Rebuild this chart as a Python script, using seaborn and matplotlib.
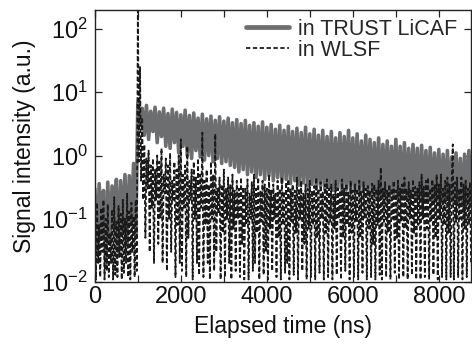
import numpy as np
import pandas as pd
import matplotlib
matplotlib.use("Agg")
from matplotlib import pyplot as plt
from matplotlib.ticker import MultipleLocator, LogLocator, NullLocator
import seaborn as sns

# sygnal w TRUST LiCAF, probki co 50 ns od 0 ns
licaf = [0.30, 0.03, 0.36, 0.05, 0.28, 0.02, 0.38, 0.04, 0.33, 0.07,
         0.42, 0.03, 0.40, 0.06, 0.50, 0.04, 0.48, 0.08, 0.75, 0.05,
         7.0, 3.0, 5.6, 2.1, 6.2, 1.8, 5.0, 2.4, 5.8, 1.6,
         4.9, 2.0, 5.6, 1.4, 4.6, 1.3, 5.4, 1.6, 4.8, 1.1,
         4.4, 1.4, 5.2, 1.0, 4.3, 0.9, 4.7, 1.2, 3.9, 0.95,
         4.5, 0.85, 3.8, 1.0, 4.2, 0.8, 3.6, 0.9, 4.1, 0.75,
         3.5, 0.8, 3.9, 0.7, 3.3, 0.65, 3.7, 0.55, 3.2, 0.6,
         3.6, 0.5, 3.0, 0.55, 3.3, 0.45, 2.9, 0.5, 3.4, 0.42,
         2.8, 0.48, 3.1, 0.4, 2.6, 0.45, 3.0, 0.38, 2.5, 0.42,
         2.9, 0.36, 2.4, 0.4, 2.7, 0.34, 2.3, 0.37, 2.8, 0.33,
         2.2, 0.35, 2.6, 0.3, 2.1, 0.33, 2.5, 0.29, 2.0, 0.32,
         2.4, 0.28, 1.9, 0.3, 2.3, 0.27, 2.0, 0.29, 2.5, 0.26,
         1.9, 0.28, 2.2, 0.25, 1.7, 0.27, 2.1, 0.24, 1.8, 0.26,
         1.6, 0.24, 1.9, 0.23, 1.5, 0.25, 1.7, 0.22, 1.4, 0.24,
         1.8, 0.22, 1.4, 0.23, 1.6, 0.21, 1.3, 0.22, 1.5, 0.2,
         1.3, 0.21, 1.45, 0.19, 1.2, 0.2, 1.35, 0.19, 1.1, 0.2,
         1.25, 0.18, 1.05, 0.19, 1.2, 0.17, 0.95, 0.18, 1.1, 0.17,
         0.9, 0.16, 1.05, 0.17, 1.2, 0.16]

# sygnal w WLSF, probki co 25 ns od 0 ns
wlsf = [0.12, 0.011, 0.18, 0.02, 0.08, 0.012, 0.15, 0.03, 0.2, 0.011,
        0.1, 0.015, 0.17, 0.012, 0.06, 0.02, 0.14, 0.011, 0.22, 0.013,
        0.09, 0.012, 0.16, 0.025, 0.12, 0.011, 0.2, 0.014, 0.1, 0.02,
        0.25, 0.012, 0.13, 0.011, 0.18, 0.03, 0.11, 0.012, 0.2, 0.015,
        250, 0.8, 25, 0.4, 4.0, 0.2, 1.5, 0.05, 0.9, 0.3,
        1.2, 0.03, 0.7, 0.15, 0.9, 0.02, 0.6, 0.2, 1.0, 0.04,
        0.8, 0.1, 1.3, 0.02, 0.5, 0.25, 0.9, 0.015, 0.7, 0.1,
        1.1, 0.03, 0.4, 0.2, 0.8, 0.012, 0.6, 0.08, 1.0, 0.02,
        1.8, 0.015, 0.5, 0.15, 0.7, 0.012, 1.4, 0.05, 0.4, 0.2,
        0.6, 0.011, 0.8, 0.1, 0.45, 0.02, 0.9, 0.013, 0.5, 0.15,
        2.3, 0.012, 0.4, 0.08, 0.6, 0.02, 0.35, 0.011, 0.8, 0.1,
        0.5, 0.015, 2.2, 0.03, 0.3, 0.12, 0.45, 0.011, 0.35, 0.06,
        0.6, 0.012, 0.3, 0.1, 0.45, 0.02, 0.35, 0.011, 0.5, 0.07,
        0.28, 0.015, 0.4, 0.1, 0.3, 0.012, 0.45, 0.04, 0.32, 0.011,
        0.3, 0.08, 0.42, 0.011, 0.25, 0.1, 0.38, 0.015, 0.5, 0.02,
        0.3, 0.06, 0.45, 0.011, 0.28, 0.09, 0.4, 0.013, 0.35, 0.03,
        0.3, 0.011, 0.5, 0.07, 0.28, 0.015, 0.35, 0.1, 0.25, 0.012,
        0.4, 0.05, 0.3, 0.011, 0.45, 0.08, 0.27, 0.014, 0.38, 0.02,
        0.42, 0.011, 0.3, 0.09, 0.35, 0.013, 0.28, 0.06, 0.45, 0.011,
        0.3, 0.1, 0.4, 0.015, 0.25, 0.04, 0.35, 0.011, 0.3, 0.07,
        0.4, 0.012, 0.28, 0.08, 0.33, 0.011, 0.45, 0.05, 0.3, 0.014,
        0.38, 0.1, 0.27, 0.011, 0.35, 0.06, 0.42, 0.012, 0.3, 0.09,
        0.35, 0.011, 0.25, 0.07, 0.4, 0.013, 0.3, 0.1, 0.28, 0.011,
        0.42, 0.05, 0.3, 0.015, 0.36, 0.08, 0.26, 0.011, 0.4, 0.06,
        0.28, 0.012, 0.35, 0.09, 0.3, 0.011, 0.4, 0.05, 0.27, 0.014,
        0.38, 0.1, 0.3, 0.011, 0.33, 0.07, 0.28, 0.012, 0.36, 0.04,
        0.35, 0.011, 0.3, 0.08, 0.4, 0.013, 0.65, 0.011, 0.3, 0.09,
        0.38, 0.012, 0.28, 0.06, 0.35, 0.011, 0.3, 0.1, 0.4, 0.014,
        0.28, 0.05, 0.4, 0.011, 0.3, 0.09, 0.35, 0.012, 0.45, 0.07,
        0.3, 0.011, 0.38, 0.1, 0.28, 0.013, 0.42, 0.06, 0.32, 0.011,
        0.3, 0.08, 0.38, 0.011, 0.5, 0.1, 0.32, 0.012, 0.4, 0.07,
        0.45, 0.011, 0.3, 0.09, 0.42, 0.013, 0.35, 0.05, 0.5, 0.011,
        0.35, 0.1, 0.5, 0.012, 0.3, 0.08, 0.4, 0.011, 0.45, 0.06,
        0.35, 0.012, 0.4, 1.5, 0.011, 0.38, 0.09, 0.45, 0.012, 0.3,
        0.1, 0.45, 0.011, 0.35, 0.07, 0.4, 0.012, 0.3, 0.08, 0.38,
        0.02]

df_licaf = pd.DataFrame({"t": 50 * np.arange(len(licaf)), "s": licaf})
df_wlsf = pd.DataFrame({"t": 25 * np.arange(len(wlsf)), "s": wlsf})

sns.set_theme(style="ticks")
plt.rcParams["font.family"] = ["Liberation Sans", "DejaVu Sans"]

fig = plt.figure(figsize=(4.72, 3.44), dpi=100)
ax = fig.add_axes([0.201, 0.180, 0.797, 0.791])

sns.lineplot(data=df_licaf, x="t", y="s", ax=ax, color="#6d6e70", lw=2.6,
             label="in TRUST LiCAF")
sns.lineplot(data=df_wlsf, x="t", y="s", ax=ax, color="#1a1a1a", lw=1.3,
             linestyle=(0, (2.4, 1.4)), label="in WLSF")

ax.set_yscale("log")
ax.set_xlim(0, 8750)
ax.set_ylim(0.01, 200)
ax.xaxis.set_major_locator(MultipleLocator(2000))
ax.xaxis.set_minor_locator(MultipleLocator(1000))
ax.yaxis.set_major_locator(LogLocator(base=10, numticks=10))
ax.yaxis.set_minor_locator(NullLocator())
ax.tick_params(which="both", direction="in", top=True, right=True,
               length=5, width=0.9, color="#222222", labelsize=17,
               labelcolor="#111111", pad=5)
ax.tick_params(axis="x", pad=3)
for sp in ax.spines.values():
    sp.set_linewidth(1.0)
    sp.set_color("#222222")

ax.set_xlabel("Elapsed time (ns)", fontsize=16.5, color="#111111", labelpad=5)
ax.set_ylabel("Signal intensity (a.u.)", fontsize=16.5, color="#111111", labelpad=4)

leg = ax.legend(loc="upper right", bbox_to_anchor=(0.985, 1.0), frameon=False,
                fontsize=15.5, handlelength=2.0, handletextpad=0.4,
                labelspacing=0.02, borderaxespad=0.2, borderpad=0.2)
for line in leg.get_lines():
    if line.get_linestyle() == "-":
        line.set_linewidth(3.4)

fig.savefig("out.png", dpi=100)
